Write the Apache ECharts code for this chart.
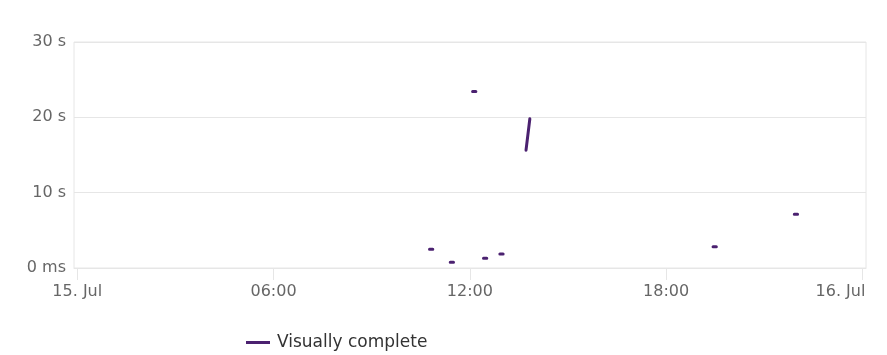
<!DOCTYPE html>
<html>
<head>
<meta charset="utf-8">
<script src="https://cdn.jsdelivr.net/npm/echarts@6/dist/echarts.min.js"></script>
<style>
html,body{margin:0;padding:0;background:#fff;}
#c{width:887px;height:355px;}
</style>
</head>
<body>
<div id="c"></div>
<script>
// Data; null breaks the line
var times = [
  '2024-07-15 10:46', '2024-07-15 10:52', null,
  '2024-07-15 11:24', '2024-07-15 11:30', null,
  '2024-07-15 12:05', '2024-07-15 12:11', null,
  '2024-07-15 12:25', '2024-07-15 12:31', null,
  '2024-07-15 12:55', '2024-07-15 13:01', null,
  '2024-07-15 13:43', '2024-07-15 13:50', null,
  '2024-07-15 19:26', '2024-07-15 19:32', null,
  '2024-07-15 21:55', '2024-07-15 22:01'
];
var values = [
  2.48, 2.48, null,
  0.76, 0.76, null,
  23.43, 23.43, null,
  1.29, 1.29, null,
  1.86, 1.86, null,
  15.64, 19.81, null,
  2.83, 2.83, null,
  7.13, 7.13
];
var seriesName = 'Visually complete';
var xTickTimes = ['2024-07-15 00:00', '2024-07-15 06:00', '2024-07-15 12:00', '2024-07-15 18:00', '2024-07-16 00:00'];
var xTickLabels = ['15. Jul', '06:00', '12:00', '18:00', '16. Jul'];
var xMin = '2024-07-14 23:54';
var xMax = '2024-07-16 00:06:30';
var yTicks = [0, 10, 20, 30];
var yTickLabels = ['0 ms', '10 s', '20 s', '30 s'];

function ts(s) { return new Date(s.replace(' ', 'T')).getTime(); }

var prevT = null;
var seriesData = values.map(function (v, i) {
  if (v === null) {
    return [prevT, null];
  }
  prevT = ts(times[i]);
  return [prevT, v];
});
var xTickValues = xTickTimes.map(ts);

var chart = echarts.init(document.getElementById('c'));
chart.setOption({
  animation: false,
  textStyle: { fontFamily: 'DejaVu Sans' },
  grid: {
    left: 74, right: 21, top: 42, bottom: 87,
    show: true, borderColor: '#e6e6e6', borderWidth: 1,
    containLabel: false
  },
  legend: {
    left: 241, top: 329,
    itemWidth: 24, itemHeight: 3,
    icon: 'rect',
    textStyle: { fontFamily: 'DejaVu Sans', fontSize: 17, color: '#333333', padding: [0, 0, 0, 2] },
    data: [seriesName]
  },
  xAxis: {
    type: 'value',
    min: ts(xMin),
    max: ts(xMax),
    axisLine: { show: true, lineStyle: { color: '#e6e6e6', width: 1 } },
    axisTick: { show: true, length: 12, lineStyle: { color: '#e6e6e6' }, customValues: xTickValues },
    splitLine: { show: false },
    axisLabel: {
      customValues: xTickValues,
      margin: 16,
      color: '#666666',
      fontFamily: 'DejaVu Sans',
      fontSize: 16,
      formatter: function (v) {
        var i = xTickValues.indexOf(v);
        if (i < 0) return '';
        if (i === xTickValues.length - 1) return '{r|' + xTickLabels[i] + '}';
        return xTickLabels[i];
      },
      rich: {
        r: { fontFamily: 'DejaVu Sans', fontSize: 16, color: '#666666', padding: [0, 44, 0, 0] }
      }
    }
  },
  yAxis: {
    type: 'value',
    min: 0, max: 30, interval: 10,
    axisLine: { show: false },
    axisTick: { show: false },
    splitLine: { show: true, lineStyle: { color: '#e6e6e6', width: 1 } },
    axisLabel: {
      margin: 8,
      color: '#666666',
      fontFamily: 'DejaVu Sans',
      fontSize: 16,
      formatter: function (v) {
        var i = yTicks.indexOf(v);
        return i >= 0 ? yTickLabels[i] : '';
      }
    }
  },
  series: [{
    name: seriesName,
    type: 'line',
    data: seriesData,
    symbol: 'none',
    showSymbol: false,
    connectNulls: false,
    color: '#4b2170',
    lineStyle: { width: 3, color: '#4b2170', cap: 'round' }
  }]
});
</script>
</body>
</html>
